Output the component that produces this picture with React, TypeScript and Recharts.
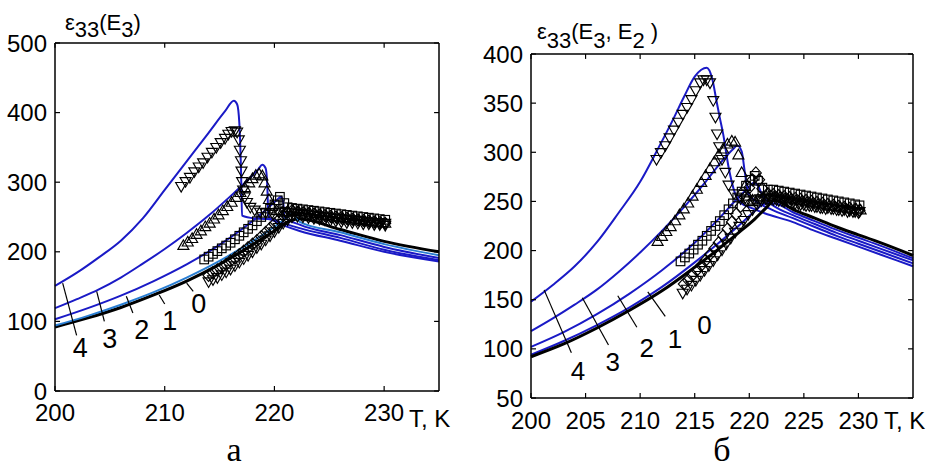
import React from "react";
import { ComposedChart, Line, Scatter, XAxis, YAxis, ReferenceLine, ReferenceDot } from "recharts";

type Pt = [number, number];

// ---- panel а : ε33(E3) ----
const curveA4: Pt[] = [[200, 151], [202, 170], [204, 192], [206, 216], [208, 248], [210, 289], [212, 330], [214, 371], [215.5, 402], [216.3, 417], [216.6, 412], [216.8, 385], [216.95, 320], [217.05, 252], [218.2, 248], [219.4, 247], [220.8, 238], [222.3, 230], [226, 216], [230, 200], [235, 186]];
const curveA3: Pt[] = [[200, 119], [202, 132], [204, 146], [206, 163], [208, 183], [210, 204], [212, 227], [214, 252], [216, 280], [217.5, 302], [218.5, 318], [218.9, 325], [219.2, 320], [219.35, 295], [219.45, 250], [220.5, 243], [222.3, 234], [226, 220], [230, 203], [235, 188]];
const curveA2: Pt[] = [[200, 103], [203, 119], [206, 137], [209, 158], [212, 182], [215, 210], [217, 232], [219, 257], [220.2, 274], [220.6, 279], [220.8, 272], [220.9, 250], [222.3, 239], [226, 224], [230, 207], [235, 191]];
const curveA1: Pt[] = [[200, 94], [203, 108], [206, 124], [209, 142], [212, 163], [215, 187], [218, 215], [220, 236], [221.2, 250], [221.7, 256], [222.3, 243], [226, 228], [230, 211], [235, 195]];
const curveA0: Pt[] = [[200, 92], [203, 105], [206, 120], [209, 138], [212, 158], [215, 182], [218, 210], [220, 230], [221.5, 245], [222.3, 247], [226, 232], [230, 215], [235, 200]];

const expA4: Pt[] = [[211.5, 293], [211.9, 300], [212.3, 306], [212.7, 314], [213.1, 321], [213.5, 327], [213.9, 335], [214.3, 342], [214.7, 349], [215.1, 356], [215.5, 362], [215.8, 368], [216.1, 372], [216.4, 373], [216.6, 371], [216.75, 360], [216.85, 345], [216.95, 330], [217.0, 315], [217.05, 300], [217.15, 288], [217.3, 278], [217.5, 270], [217.8, 263], [218.2, 259], [218.7, 256], [219.2, 255], [219.8, 255], [220.4, 256], [221, 256], [221.6, 255], [222.2, 254], [222.7, 253], [223.2, 252], [223.7, 251], [224.2, 250], [224.7, 249], [225.2, 248], [225.7, 247], [226.2, 246], [226.7, 245], [227.2, 245], [227.7, 244], [228.2, 243], [228.7, 242], [229.2, 241], [229.7, 241], [230.1, 240]];
const expA3: Pt[] = [[211.7, 210], [212.1, 215], [212.5, 220], [212.9, 226], [213.3, 231], [213.7, 237], [214.1, 242], [214.5, 248], [214.9, 254], [215.3, 260], [215.7, 266], [216.1, 272], [216.5, 279], [216.9, 286], [217.3, 293], [217.7, 300], [218, 306], [218.3, 311], [218.6, 313], [218.9, 310], [219.1, 300], [219.3, 288], [219.5, 276], [219.8, 266], [220.2, 260], [220.7, 258], [221.2, 259], [221.7, 260], [222.2, 259], [222.7, 258], [223.2, 257], [223.7, 256], [224.2, 254], [224.7, 253], [225.2, 252], [225.7, 251], [226.2, 250], [226.7, 249], [227.2, 248], [227.7, 247], [228.2, 246], [228.7, 245], [229.2, 244], [229.7, 243], [230.1, 242]];
const expA2: Pt[] = [[213.6, 189], [214, 193], [214.4, 197], [214.8, 201], [215.2, 205], [215.6, 209], [216, 213], [216.4, 218], [216.8, 223], [217.2, 228], [217.6, 233], [218, 238], [218.4, 244], [218.8, 250], [219.2, 256], [219.6, 262], [220, 268], [220.3, 274], [220.5, 279], [220.9, 270], [221.2, 264], [221.6, 263], [222.1, 262], [222.6, 261], [223.1, 260], [223.6, 259], [224.1, 258], [224.6, 257], [225.1, 256], [225.6, 255], [226.1, 254], [226.6, 253], [227.1, 252], [227.6, 251], [228.1, 250], [228.6, 249], [229.1, 248], [229.6, 247], [230.1, 246]];
const expA1: Pt[] = [[214, 166], [214.4, 170], [214.8, 174], [215.2, 178], [215.6, 182], [216, 187], [216.4, 191], [216.8, 196], [217.2, 201], [217.6, 206], [218, 211], [218.4, 216], [218.8, 222], [219.2, 228], [219.6, 234], [220, 240], [220.4, 246], [220.8, 252], [221.2, 257], [221.6, 259], [222.1, 257], [222.6, 256], [223.1, 255], [223.6, 254], [224.1, 253], [224.6, 252], [225.1, 251], [225.6, 250], [226.1, 249], [226.6, 248], [227.1, 247], [227.6, 246], [228.1, 245], [228.6, 244], [229.1, 243], [229.6, 242], [230.1, 241]];
const expA0: Pt[] = [[214, 156], [214.4, 159], [214.8, 162], [215.2, 166], [215.6, 170], [216, 174], [216.4, 179], [216.8, 184], [217.2, 189], [217.6, 194], [218, 199], [218.4, 205], [218.8, 210], [219.2, 216], [219.6, 222], [220, 228], [220.4, 234], [220.8, 240], [221.2, 245], [221.6, 249], [222.1, 250], [222.6, 249], [223.1, 248], [223.6, 247], [224.1, 246], [224.6, 245], [225.1, 244], [225.6, 243], [226.1, 242], [226.6, 241], [227.1, 241], [227.6, 240], [228.1, 239], [228.6, 239], [229.1, 238], [229.6, 238], [230.1, 237]];

// ---- panel б : ε33(E3, E2) ----
const curveB4: Pt[] = [[200, 148], [202, 165], [204, 184], [206, 208], [208, 238], [210, 270], [211.7, 305], [213, 333], [214, 356], [215, 377], [215.6, 384], [216.1, 386], [216.6, 375], [217, 352], [217.3, 335], [217.6, 319], [218.1, 285], [218.7, 258], [219.3, 248], [220.3, 243], [221.4, 238], [224, 229], [226, 220], [228, 212], [230, 204], [232, 196], [235, 184]];
const curveB3: Pt[] = [[200, 118], [202, 131], [204, 145], [206, 160], [208, 178], [210, 198], [212, 220], [214, 244], [216, 270], [217.5, 291], [218.5, 303], [218.9, 307], [219.3, 301], [219.6, 279], [219.9, 258], [220.5, 251], [222, 242], [224, 233], [226, 224], [228, 215], [230, 207], [232, 199], [235, 187]];
const curveB2: Pt[] = [[200, 102], [203, 117], [206, 135], [209, 156], [212, 180], [215, 208], [217, 230], [219, 254], [220, 265], [220.4, 269], [220.8, 266], [221.2, 256], [221.8, 249], [222.3, 245], [224, 236], [226, 227], [228, 218], [230, 210], [232, 202], [235, 190]];
const curveB1: Pt[] = [[200, 94], [203, 108], [206, 124], [209, 142], [212, 163], [215, 188], [217, 206], [219, 225], [220.5, 240], [221.5, 248], [222.3, 248], [224, 239], [226, 230], [228, 221], [230, 213], [232, 205], [235, 192]];
const curveB0: Pt[] = [[200, 92], [203, 105], [206, 121], [209, 139], [212, 159], [215, 183], [217, 200], [219, 218], [220.5, 232], [221.5, 243], [222.3, 251], [224, 242], [226, 233], [228, 224], [230, 216], [232, 208], [235, 195]];

const expB4: Pt[] = [[211.5, 292], [211.9, 299], [212.3, 306], [212.7, 314], [213.1, 322], [213.5, 330], [213.9, 338], [214.3, 345], [214.7, 353], [215.1, 362], [215.5, 370], [215.8, 373], [216.1, 373], [216.4, 370], [216.7, 352], [216.9, 335], [217.05, 318], [217.25, 305], [217.5, 292], [217.8, 279], [218.1, 266], [218.6, 257], [219.2, 252], [219.8, 250], [220.4, 251], [221, 252], [221.6, 252], [222.2, 251], [222.7, 250], [223.2, 249], [223.7, 248], [224.2, 247], [224.7, 246], [225.2, 245], [225.7, 245], [226.2, 244], [226.7, 243], [227.2, 243], [227.7, 242], [228.2, 241], [228.7, 241], [229.2, 240], [229.7, 239], [230.1, 239]];
const expB3: Pt[] = [[211.6, 210], [212, 215], [212.4, 220], [212.8, 225], [213.2, 231], [213.6, 237], [214, 243], [214.4, 249], [214.8, 256], [215.2, 263], [215.6, 270], [216, 277], [216.4, 284], [216.8, 291], [217.2, 298], [217.6, 304], [218, 309], [218.4, 312], [218.7, 311], [219, 298], [219.3, 280], [219.6, 266], [219.9, 256], [220.3, 252], [220.8, 253], [221.3, 255], [221.8, 256], [222.3, 256], [222.8, 255], [223.3, 254], [223.8, 253], [224.3, 252], [224.8, 251], [225.3, 250], [225.8, 249], [226.3, 248], [226.8, 247], [227.3, 246], [227.8, 246], [228.3, 245], [228.8, 244], [229.3, 243], [229.8, 243], [230.2, 242]];
const expB2: Pt[] = [[213.7, 189], [214.1, 193], [214.5, 197], [214.9, 201], [215.3, 206], [215.7, 210], [216.1, 215], [216.5, 220], [216.9, 225], [217.3, 230], [217.7, 236], [218.1, 242], [218.5, 248], [218.9, 254], [219.3, 260], [219.7, 266], [220.1, 272], [220.5, 276], [220.8, 271], [221.2, 264], [221.7, 262], [222.2, 262], [222.7, 261], [223.2, 260], [223.7, 259], [224.2, 258], [224.7, 257], [225.2, 256], [225.7, 255], [226.2, 254], [226.7, 253], [227.2, 252], [227.7, 251], [228.2, 250], [228.7, 249], [229.2, 248], [229.7, 247], [230.1, 246]];
const expB1: Pt[] = [[214, 166], [214.4, 170], [214.8, 175], [215.2, 180], [215.6, 185], [216, 190], [216.4, 196], [216.8, 202], [217.2, 208], [217.6, 215], [218, 222], [218.4, 229], [218.8, 237], [219.2, 245], [219.6, 254], [220, 264], [220.3, 272], [220.6, 279], [220.9, 272], [221.2, 263], [221.7, 258], [222.2, 257], [222.7, 256], [223.2, 255], [223.7, 254], [224.2, 253], [224.7, 252], [225.2, 251], [225.7, 250], [226.2, 249], [226.7, 248], [227.2, 247], [227.7, 246], [228.2, 245], [228.7, 244], [229.2, 243], [229.7, 242], [230.1, 241]];
const expB0: Pt[] = [[213.9, 156], [214.3, 160], [214.7, 164], [215.1, 169], [215.5, 174], [215.9, 179], [216.3, 184], [216.7, 189], [217.1, 195], [217.5, 200], [217.9, 206], [218.3, 212], [218.7, 218], [219.1, 224], [219.5, 230], [219.9, 236], [220.3, 241], [220.7, 246], [221.1, 250], [221.5, 252], [222, 252], [222.5, 251], [223, 250], [223.5, 249], [224, 248], [224.5, 247], [225, 246], [225.5, 245], [226, 244], [226.5, 243], [227, 242], [227.5, 242], [228, 241], [228.5, 240], [229, 239], [229.5, 239], [230, 238]];

// axis ticks
const xTicksA = [200, 210, 220, 230];
const yTicksA = [0, 100, 200, 300, 400, 500];
const xTicksB = [200, 205, 210, 215, 220, 225, 230];
const yTicksB = [50, 100, 150, 200, 250, 300, 350, 400];

// field-level callouts: leader segments [t1, v1, t2, v2] and numbers [t, v, text]
const leadersA: number[][] = [[200.7, 155, 201.97, 80], [203.8, 143, 204.5, 100], [206.5, 136, 207.1, 112], [209.5, 138, 210, 125], [212, 155, 212.6, 143]];
const numbersA: [number, number, string][] = [[202.3, 62, "4"], [205, 76, "3"], [207.9, 89, "2"], [210.45, 101, "1"], [213.1, 126, "0"]];
const leadersB: number[][] = [[201.2, 160, 203.7, 96], [204.7, 152, 207.1, 104], [207.95, 154, 209.7, 122], [210.7, 158, 212.3, 133]];
const numbersB: [number, number, string][] = [[204.3, 78, "4"], [207.5, 87, "3"], [210.6, 101, "2"], [213.2, 110, "1"], [215.9, 125, "0"]];

const BLUE = "#1a1ac6";
const LIGHT_BLUE = "#2a7ed2";
const X_MIN = 200;
const X_MAX = 235;

const rows = (pts: Pt[]) => pts.map(([t, v]) => ({ t, v }));

function TriDown(p: any) {
  const { cx, cy } = p;
  return <path d={`M${cx - 5.5},${cy - 4.6}H${cx + 5.5}L${cx},${cy + 5}Z`} fill="none" stroke="#000" strokeWidth={1.15} />;
}
function TriUp(p: any) {
  const { cx, cy } = p;
  return <path d={`M${cx - 5.5},${cy + 4.6}H${cx + 5.5}L${cx},${cy - 5}Z`} fill="none" stroke="#000" strokeWidth={1.15} />;
}
function Square(p: any) {
  const { cx, cy } = p;
  return <rect x={cx - 4.3} y={cy - 4.3} width={8.6} height={8.6} fill="none" stroke="#000" strokeWidth={1.15} />;
}
function Diamond(p: any) {
  const { cx, cy } = p;
  return <path d={`M${cx},${cy - 6}L${cx + 5.5},${cy}L${cx},${cy + 6}L${cx - 5.5},${cy}Z`} fill="none" stroke="#000" strokeWidth={1.15} />;
}

type PanelProps = {
  width: number;
  height: number;
  margin: { top: number; right: number; bottom: number; left: number };
  yWidth: number;
  xHeight: number;
  yDomain: [number, number];
  yTicks: number[];
  xTicks: number[];
  xTickMargin: number;
  // inward tick length on the top and right edges, in axis units
  tickX: number;
  tickY: number;
  curves: { pts: Pt[]; color: string; w: number }[];
  marks: { pts: Pt[]; shape: (p: any) => React.ReactElement }[];
  leaders: number[][];
  numbers: [number, number, string][];
  numSize: number;
};

function Panel(p: PanelProps) {
  const tickFont = { fontSize: 24, fill: "#000" };
  const edge = { stroke: "#000", strokeWidth: 1.5 };
  const [y0, y1] = p.yDomain;
  // top and right edges of the box with their inward ticks
  const mirror: number[][] = [
    [X_MIN, y1, X_MAX, y1],
    [X_MAX, y0, X_MAX, y1],
    ...p.xTicks.map((t) => [t, y1, t, y1 - p.tickY]),
    ...p.yTicks.map((v) => [X_MAX, v, X_MAX - p.tickX, v]),
  ];
  return (
    <ComposedChart width={p.width} height={p.height} margin={p.margin}>
      <XAxis
        dataKey="t"
        type="number"
        domain={[X_MIN, X_MAX]}
        ticks={p.xTicks}
        interval={0}
        height={p.xHeight}
        axisLine={edge}
        tickLine={{ stroke: "#000", strokeWidth: 1.2 }}
        tickSize={-5}
        tickMargin={p.xTickMargin}
        tick={tickFont}
      />
      <YAxis
        dataKey="v"
        type="number"
        domain={p.yDomain}
        ticks={p.yTicks}
        interval={0}
        width={p.yWidth}
        axisLine={edge}
        tickLine={{ stroke: "#000", strokeWidth: 1.2 }}
        tickSize={-5}
        tickMargin={13}
        tick={tickFont}
      />
      {p.marks.map((m, i) => (
        <Scatter key={"m" + i} data={rows(m.pts)} dataKey="v" shape={m.shape} isAnimationActive={false} />
      ))}
      {p.curves.map((c, i) => (
        <Line
          key={"c" + i}
          data={rows(c.pts)}
          dataKey="v"
          type="monotone"
          stroke={c.color}
          strokeWidth={c.w}
          dot={false}
          activeDot={false}
          isAnimationActive={false}
        />
      ))}
      {mirror.map((l, i) => (
        <ReferenceLine
          key={"e" + i}
          segment={[{ x: l[0], y: l[1] }, { x: l[2], y: l[3] }]}
          stroke="#000"
          strokeWidth={i < 2 ? 1.5 : 1.2}
          ifOverflow="visible"
        />
      ))}
      {p.leaders.map((l, i) => (
        <ReferenceLine key={"l" + i} segment={[{ x: l[0], y: l[1] }, { x: l[2], y: l[3] }]} stroke="#000" strokeWidth={1.2} />
      ))}
      {p.numbers.map(([t, v, s]) => (
        <ReferenceDot
          key={"n" + s}
          x={t}
          y={v}
          r={1}
          fill="none"
          stroke="none"
          label={{ value: s, position: "center", fontSize: p.numSize, fill: "#000" }}
        />
      ))}
    </ComposedChart>
  );
}

export default function App() {
  return (
    <div
      style={{
        position: "absolute",
        left: 0,
        top: 0,
        width: 935,
        height: 468,
        background: "#fff",
        fontFamily: "'Liberation Sans', Arial, sans-serif",
      }}
    >
      <div style={{ position: "absolute", left: 0, top: 0 }}>
        <Panel
          width={470}
          height={468}
          margin={{ top: 43, right: 31, bottom: 0, left: 0 }}
          yWidth={55}
          xHeight={77}
          yDomain={[0, 500]}
          yTicks={yTicksA}
          xTicks={xTicksA}
          xTickMargin={18}
          tickX={0.45}
          tickY={7}
          curves={[
            { pts: curveA4, color: BLUE, w: 2 },
            { pts: curveA3, color: BLUE, w: 2 },
            { pts: curveA2, color: BLUE, w: 2 },
            { pts: curveA0, color: "#000", w: 3 },
            { pts: curveA1, color: LIGHT_BLUE, w: 2 },
          ]}
          marks={[
            { pts: expA0, shape: TriDown },
            { pts: expA1, shape: Diamond },
            { pts: expA2, shape: Square },
            { pts: expA3, shape: TriUp },
            { pts: expA4, shape: TriDown },
          ]}
          leaders={leadersA}
          numbers={numbersA}
          numSize={27}
        />
      </div>
      <div style={{ position: "absolute", left: 470, top: 0 }}>
        <Panel
          width={465}
          height={468}
          margin={{ top: 54, right: 22, bottom: 0, left: 0 }}
          yWidth={61}
          xHeight={70}
          yDomain={[50, 400]}
          yTicks={yTicksB}
          xTicks={xTicksB}
          xTickMargin={19}
          tickX={0.45}
          tickY={5}
          curves={[
            { pts: curveB4, color: BLUE, w: 2 },
            { pts: curveB3, color: BLUE, w: 2 },
            { pts: curveB2, color: BLUE, w: 2 },
            { pts: curveB1, color: BLUE, w: 2 },
            { pts: curveB0, color: "#000", w: 3 },
          ]}
          marks={[
            { pts: expB0, shape: TriDown },
            { pts: expB1, shape: Diamond },
            { pts: expB2, shape: Square },
            { pts: expB3, shape: TriUp },
            { pts: expB4, shape: TriDown },
          ]}
          leaders={leadersB}
          numbers={numbersB}
          numSize={26}
        />
      </div>
      <svg width={935} height={468} style={{ position: "absolute", left: 0, top: 0, pointerEvents: "none" }}>
        <text x={65} y={30} fontSize={22} fill="#000">
          ε<tspan dy={7}>33</tspan>
          <tspan dy={-7}>(E</tspan>
          <tspan dy={7}>3</tspan>
          <tspan dy={-7}>)</tspan>
        </text>
        <text x={537} y={39} fontSize={22} fill="#000">
          ε<tspan dy={9}>33</tspan>
          <tspan dy={-9}>(E</tspan>
          <tspan dy={9}>3</tspan>
          <tspan dy={-9}>, E</tspan>
          <tspan dy={9}>2</tspan>
          <tspan dy={-9}> )</tspan>
        </text>
        <text x={409} y={427} fontSize={24} fill="#000">T, K</text>
        <text x={884} y={429} fontSize={24} fill="#000">T, K</text>
        <text x={234} y={461} fontSize={34} textAnchor="middle" fontFamily="'Liberation Serif', serif" fill="#000">а</text>
        <text x={722} y={461} fontSize={34} textAnchor="middle" fontFamily="'Liberation Serif', serif" fill="#000">б</text>
      </svg>
    </div>
  );
}
